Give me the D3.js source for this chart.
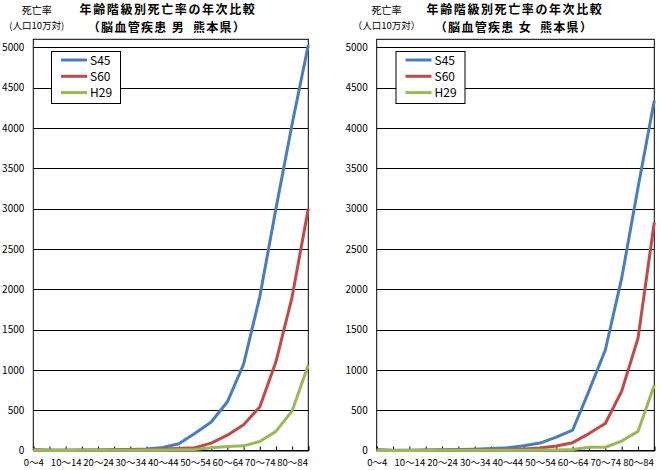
<!DOCTYPE html>
<html>
<head>
<meta charset="utf-8">
<script src="https://d3js.org/d3.v7.min.js"></script>
<style>
  body { margin: 0; background: #fff; }
  text { font-family: "Noto Sans CJK JP", "DejaVu Sans", sans-serif; }
</style>
</head>
<body>
<svg width="662" height="470"></svg>
<script>
// 年齢階級
const ageLabels = ["0〜4","5〜9","10〜14","15〜19","20〜24","25〜29","30〜34","35〜39","40〜44",
                   "45〜49","50〜54","55〜59","60〜64","65〜69","70〜74","75〜79","80〜84","85〜"]
const yTicks = [0,500,1000,1500,2000,2500,3000,3500,4000,4500,5000]
const seriesNames = ["S45","S60","H29"]

// 男
const maleS45 = [8,3,2,5,6,8,12,20,38,84,215,354,604,1070,1906,3000,4050,5030]
const maleS60 = [5,2,2,3,4,6,8,12,18,25,34,92,190,320,540,1100,1906,3000]
const maleH29 = [2,1,1,2,2,3,4,5,7,9,12,34,50,58,112,237,491,1060]

// 女
const femaleS45 = [8,3,2,5,8,12,17,25,33,58,92,166,252,740,1246,2134,3260,4340]
const femaleS60 = [4,1,1,2,3,4,6,8,12,20,30,55,97,210,335,735,1390,2830]
const femaleH29 = [1,1,1,1,2,2,2,3,3,4,5,5,12,40,40,117,237,810]

const colors = ["#4a7ebb","#be4b48","#98b954"]

const svg = d3.select("svg")

const drawChart = (cfg) => {
    const { left, right, top, bottom } = cfg
    const g = svg.append("g")

    const xScale = d3.scalePoint()
        .domain(ageLabels)
        .range([left, right])

    const yScale = d3.scaleLinear()
        .domain([0, 5100])
        .range([bottom, top])

    // gridlines
    g.selectAll(".grid").data(yTicks.filter(d => d > 0)).enter()
        .append("line")
        .attr("x1", left).attr("x2", right)
        .attr("y1", d => Math.round(yScale(d)) + 0.5)
        .attr("y2", d => Math.round(yScale(d)) + 0.5)
        .attr("stroke", "#000").attr("stroke-width", 1)

    // plot area border
    g.append("rect")
        .attr("x", left).attr("y", top)
        .attr("width", right - left).attr("height", bottom - top)
        .attr("fill", "none").attr("stroke", "#000").attr("stroke-width", 1)

    // y axis labels
    const yAxis = d3.axisLeft(yScale).tickValues(yTicks).tickFormat(d3.format("d"))
        .tickSize(0).tickPadding(9)
    const yAxisG = g.append("g").attr("transform", `translate(${left},0)`).call(yAxis)
    yAxisG.select(".domain").remove()
    yAxisG.selectAll("text")
        .style("font-family", '"Noto Sans CJK JP", sans-serif')
        .style("font-size", "10px")
        .attr("fill", "#000")

    // x axis (ticks point inward, every other label)
    const xAxis = d3.axisBottom(xScale).tickSize(-4).tickPadding(9)
        .tickFormat((d, i) => i % 2 === 0 && i < 17 ? d : "")
    const xAxisG = g.append("g").attr("transform", `translate(0,${bottom})`).call(xAxis)
    xAxisG.select(".domain").attr("stroke", "#000")
    xAxisG.selectAll(".tick line").attr("stroke", "#000")
    xAxisG.selectAll("text")
        .style("font-family", '"Noto Sans CJK JP", sans-serif')
        .style("font-size", "9.5px")
        .attr("fill", "#000")

    // lines
    const line = d3.line()
        .x((d, i) => xScale(ageLabels[i]))
        .y(d => yScale(d))

    cfg.series.forEach((s, i) => {
        g.append("path")
            .datum(s)
            .attr("d", line)
            .attr("fill", "none")
            .attr("stroke", colors[i])
            .attr("stroke-width", 3)
            .attr("stroke-linejoin", "round")
    })

    // titles
    g.append("text").text("年齢階級別死亡率の年次比較")
        .attr("x", cfg.titleX).attr("y", 14)
        .attr("text-anchor", "middle").attr("font-size", "12px").attr("font-weight", "bold")
        .attr("letter-spacing", "1.6px")
    g.append("text").text(cfg.subtitle)
        .attr("x", cfg.titleX - 1).attr("y", 31.5)
        .attr("text-anchor", "middle").attr("font-size", "12px").attr("font-weight", "bold")
        .attr("letter-spacing", "1.3px")

    g.append("text").text("死亡率")
        .attr("x", cfg.unitX).attr("y", 14)
        .attr("text-anchor", "middle").attr("font-size", "10px")
    g.append("text").text(cfg.unit)
        .attr("x", cfg.unitX).attr("y", 28.5)
        .attr("text-anchor", "middle").attr("font-size", "9.5px")

    // legend
    const lx = cfg.legendX, ly = 51
    g.append("rect")
        .attr("x", lx + 0.5).attr("y", ly + 0.5)
        .attr("width", 69).attr("height", 52)
        .attr("fill", "#fff").attr("stroke", "#000").attr("stroke-width", 1)
    seriesNames.forEach((name, i) => {
        const y = ly + 9 + i * 16.3
        g.append("line")
            .attr("x1", lx + 10).attr("x2", lx + 36)
            .attr("y1", y).attr("y2", y)
            .attr("stroke", colors[i]).attr("stroke-width", 3)
        g.append("text").text(name)
            .attr("x", lx + 39).attr("y", y + 4.5)
            .attr("font-size", "12px")
    })
}

drawChart({
    left: 33.3, right: 308.3, top: 39.3, bottom: 450.5,
    titleX: 168, subtitle: "（脳血管疾患 男\u00a0\u00a0熊本県）",
    unitX: 36.7, unit: "(人口10万対)",
    legendX: 51,
    series: [maleS45, maleS60, maleH29]
})

drawChart({
    left: 376.7, right: 654.3, top: 39.3, bottom: 450.5,
    titleX: 515, subtitle: "（脳血管疾患 女\u00a0\u00a0熊本県）",
    unitX: 386.5, unit: "（人口10万対）",
    legendX: 395.5,
    series: [femaleS45, femaleS60, femaleH29]
})
</script>
</body>
</html>
